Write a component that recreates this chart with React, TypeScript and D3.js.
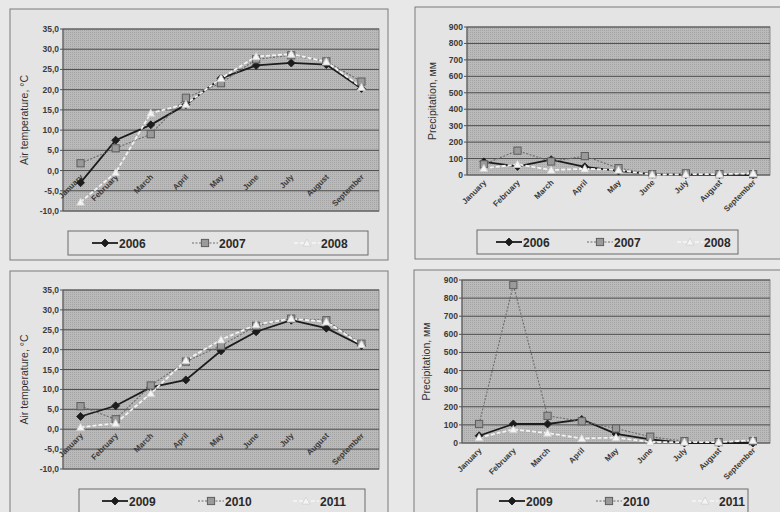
import React from "react";
import * as d3 from "d3";

const months = ["January", "February", "March", "April", "May", "June", "July", "August", "September"];

const temp2006 = [-3.0, 7.5, 11.3, 16.3, 22.8, 26.0, 26.6, 26.2, 20.3];
const temp2007 = [1.8, 5.5, 9.0, 18.0, 21.6, 27.5, 28.5, 27.0, 22.0];
const temp2008 = [-7.8, -0.5, 14.2, 16.4, 22.8, 28.2, 28.8, 26.9, 20.6];

const prec2006 = [80, 52, 93, 50, 25, 5, 2, 2, 0];
const prec2007 = [65, 148, 82, 115, 42, 5, 10, 5, 5];
const prec2008 = [40, 65, 30, 38, 30, 2, 5, 5, 10];

const temp2009 = [3.2, 5.9, 10.5, 12.4, 19.7, 24.5, 27.4, 25.4, 21.0];
const temp2010 = [5.8, 2.5, 11.0, 17.0, 21.0, 26.0, 27.8, 27.4, 21.5];
const temp2011 = [0.5, 1.5, 9.0, 17.3, 22.5, 26.3, 27.8, 27.0, 21.3];

const prec2009 = [40, 105, 105, 130, 50, 20, 0, 0, 0];
const prec2010 = [105, 872, 150, 120, 80, 35, 10, 5, 10];
const prec2011 = [30, 75, 55, 25, 30, 5, 5, 5, 15];

const tempTicks = [35, 30, 25, 20, 15, 10, 5, 0, -5, -10];
const precTicks = [900, 800, 700, 600, 500, 400, 300, 200, 100, 0];

const FONT = "'Liberation Sans', Arial, sans-serif";
const NARROW = "'Liberation Sans Narrow', 'Liberation Sans', Arial, sans-serif";

type Series = { name: string; values: number[] };

type PanelProps = {
  frame: [number, number, number, number];
  plot: [number, number, number, number];
  domain: [number, number];
  ticks: number[];
  fmt: (v: number) => string;
  series: Series[];
  title: string;
  titleX: number;
  legend: [number, number, number, number];
  legendX: number[];
  tempMode: boolean;
};

function marker(kind: number, x: number, y: number, key: string) {
  if (kind === 0) {
    const s = 4;
    return (
      <path key={key} d={`M${x},${y - s}L${x + s},${y}L${x},${y + s}L${x - s},${y}Z`} fill="#1c1c1c" stroke="#1c1c1c" strokeWidth={0.8} />
    );
  }
  if (kind === 1) {
    const s = 3.6;
    return <rect key={key} x={x - s} y={y - s} width={2 * s} height={2 * s} fill="#9a9a9a" stroke="#5e5e5e" strokeWidth={1} />;
  }
  const s = 4;
  return (
    <path key={key} d={`M${x},${y - s}L${x + s},${y + s * 0.8}L${x - s},${y + s * 0.8}Z`} fill="#f4f4f4" stroke="#d0d0d0" strokeWidth={0.8} />
  );
}

const lineStyles = [
  { stroke: "#1c1c1c", width: 1.8, dash: "" },
  { stroke: "#6c6c6c", width: 1.1, dash: "2,1.5" },
  { stroke: "#f2f2f2", width: 1.8, dash: "4,2" },
];

function Panel(p: PanelProps) {
  const [fx, fy, fw, fh] = p.frame;
  const [px, py, pw, ph] = p.plot;
  const x = d3.scaleBand<string>().domain(months).range([px, px + pw]);
  const y = d3.scaleLinear().domain(p.domain).range([py + ph, py]);
  const zeroY = y(0);
  const line = d3
    .line<number>()
    .x((_, i) => (x(months[i]) as number) + x.bandwidth() / 2)
    .y((v) => y(v));
  const [lx, ly, lw, lh] = p.legend;
  const labelY = p.tempMode ? zeroY + 7 : py + ph + 8;
  return (
    <g>
      <rect x={fx} y={fy} width={fw} height={fh} fill="#e4e4e4" stroke="#7a7a7a" strokeWidth={1} />
      <defs>
        <pattern id={`dots${fx}${fy}`} width={2} height={2} patternUnits="userSpaceOnUse">
          <rect width={2} height={2} fill="#bababa" />
          <rect width={1} height={1} fill="#a4a4a4" />
        </pattern>
      </defs>
      <rect x={px} y={py} width={pw} height={ph} fill={`url(#dots${fx}${fy})`} stroke="#8a8a8a" strokeWidth={1} />
      {p.ticks.map((t) => (
        <line key={"g" + t} x1={px} x2={px + pw} y1={y(t)} y2={y(t)} stroke="#4c4c4c" strokeWidth={1} />
      ))}
      <line x1={px} x2={px} y1={py} y2={py + ph} stroke="#555" strokeWidth={1} />
      {p.ticks.map((t) => (
        <g key={"t" + t}>
          <line x1={px - 3} x2={px} y1={y(t)} y2={y(t)} stroke="#555" />
          <text x={px - 4} y={y(t) + 3} textAnchor="end" fontSize={8.5} fontWeight="bold" fill="#3a3a3a" fontFamily={NARROW}>
            {p.fmt(t)}
          </text>
        </g>
      ))}
      {months.map((m) => {
        const cx = (x(m) as number) + x.bandwidth() / 2;
        return (
          <text
            key={m}
            transform={`translate(${cx + 3},${labelY}) rotate(-45)`}
            textAnchor="end"
            fontSize={8}
            fontWeight="bold"
            fill="#3a3a3a"
            fontFamily={NARROW}
          >
            {m}
          </text>
        );
      })}
      <text
        transform={`translate(${p.titleX},${py + ph / 2}) rotate(-90)`}
        textAnchor="middle"
        fontSize={10.5}
        fill="#333"
        fontFamily={FONT}
      >
        {p.title}
      </text>
      {p.series.map((s, si) => (
        <path
          key={"l" + si}
          d={line(s.values) || ""}
          fill="none"
          stroke={lineStyles[si].stroke}
          strokeWidth={lineStyles[si].width}
          strokeDasharray={lineStyles[si].dash}
        />
      ))}
      {p.series.map((s, si) =>
        s.values.map((v, i) => marker(si, (x(months[i]) as number) + x.bandwidth() / 2, y(v), `m${si}-${i}`))
      )}
      <rect x={lx} y={ly} width={lw} height={lh} fill="#e4e4e4" stroke="#6a6a6a" strokeWidth={1} />
      {p.series.map((s, si) => {
        const sx = p.legendX[si];
        const cy = ly + lh / 2;
        return (
          <g key={"lg" + si}>
            <line
              x1={sx}
              x2={sx + 26}
              y1={cy}
              y2={cy}
              stroke={lineStyles[si].stroke}
              strokeWidth={lineStyles[si].width}
              strokeDasharray={lineStyles[si].dash}
            />
            {marker(si, sx + 13, cy, "lm" + si)}
            <text x={sx + 27} y={cy + 4.5} fontSize={12} fontWeight="bold" fill="#2a2a2a" fontFamily={NARROW}>
              {s.name}
            </text>
          </g>
        );
      })}
    </g>
  );
}

const fmtTemp = (v: number) => d3.format(".1f")(v).replace(".", ",").replace("−", "-");
const fmtPrec = (v: number) => String(v);

export default function App() {
  return (
    <svg width={780} height={512} style={{ position: "absolute", left: 0, top: 0, background: "#e8e8e8" }}>
      <rect x={0} y={0} width={780} height={512} fill="#e8e8e8" />
      <Panel
        frame={[10, 9, 378, 251]}
        plot={[63, 29, 316, 182]}
        domain={[-10, 35]}
        ticks={tempTicks}
        fmt={fmtTemp}
        series={[
          { name: "2006", values: temp2006 },
          { name: "2007", values: temp2007 },
          { name: "2008", values: temp2008 },
        ]}
        title="Air temperature, °C"
        titleX={28}
        legend={[68, 231, 300, 24]}
        legendX={[92, 192, 294]}
        tempMode={true}
      />
      <Panel
        frame={[415, 7, 370, 252]}
        plot={[467, 27, 303, 148]}
        domain={[0, 900]}
        ticks={precTicks}
        fmt={fmtPrec}
        series={[
          { name: "2006", values: prec2006 },
          { name: "2007", values: prec2007 },
          { name: "2008", values: prec2008 },
        ]}
        title="Precipitation, мм"
        titleX={436}
        legend={[477, 230, 261, 24]}
        legendX={[496, 587, 677]}
        tempMode={false}
      />
      <Panel
        frame={[10, 271, 378, 250]}
        plot={[63, 290, 316, 179]}
        domain={[-10, 35]}
        ticks={tempTicks}
        fmt={fmtTemp}
        series={[
          { name: "2009", values: temp2009 },
          { name: "2010", values: temp2010 },
          { name: "2011", values: temp2011 },
        ]}
        title="Air temperature, °C"
        titleX={28}
        legend={[79, 489, 286, 24]}
        legendX={[102, 198, 293]}
        tempMode={true}
      />
      <Panel
        frame={[414, 270, 370, 250]}
        plot={[462, 280, 308, 163]}
        domain={[0, 900]}
        ticks={precTicks}
        fmt={fmtPrec}
        series={[
          { name: "2009", values: prec2009 },
          { name: "2010", values: prec2010 },
          { name: "2011", values: prec2011 },
        ]}
        title="Precipitation, мм"
        titleX={430}
        legend={[477, 489, 271, 24]}
        legendX={[499, 596, 692]}
        tempMode={false}
      />
    </svg>
  );
}
